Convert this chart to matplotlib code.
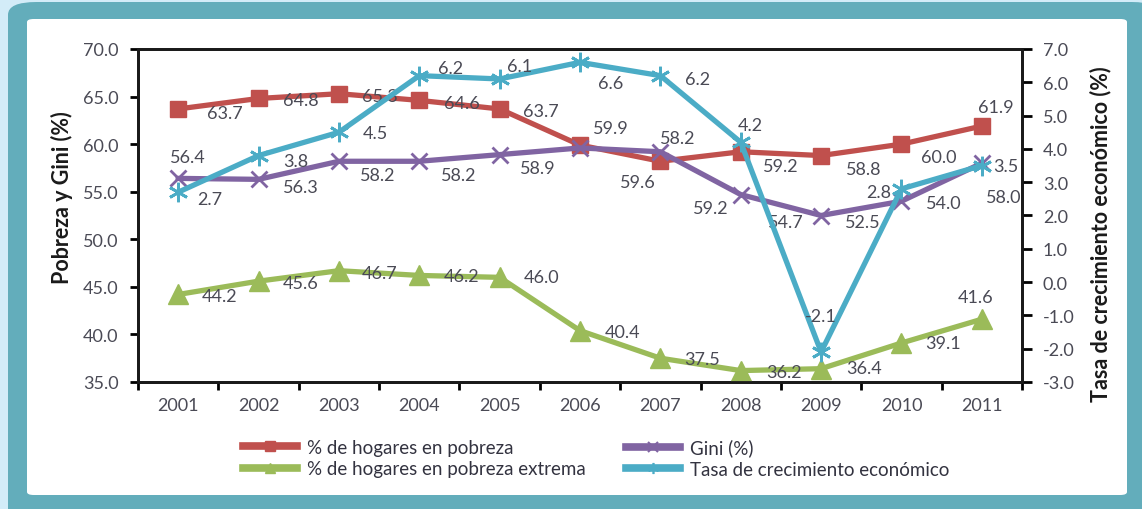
import matplotlib
matplotlib.use("Agg")
import matplotlib.pyplot as plt
import numpy as np
from matplotlib.patches import FancyBboxPatch
from matplotlib.lines import Line2D
from matplotlib.ticker import FuncFormatter, MultipleLocator

# Data
years = ["2001", "2002", "2003", "2004", "2005", "2006",
         "2007", "2008", "2009", "2010", "2011"]
pobreza = [63.7, 64.8, 65.3, 64.6, 63.7, 59.9, 58.2, 59.2, 58.8, 60.0, 61.9]
pobreza_extrema = [44.2, 45.6, 46.7, 46.2, 46.0, 40.4, 37.5, 36.2, 36.4, 39.1, 41.6]
gini = [56.4, 56.3, 58.2, 58.2, 58.9, 59.6, 59.2, 54.7, 52.5, 54.0, 58.0]
crecimiento = [2.7, 3.8, 4.5, 6.2, 6.1, 6.6, 6.2, 4.2, -2.1, 2.8, 3.5]

legend_labels = ["% de hogares en pobreza", "% de hogares en pobreza extrema",
                 "Gini (%)", "Tasa de crecimiento económico"]

# label offsets in pixels (dx, dy with dy positive = down)
off_pobreza = [(47, 4), (42, 2), (41, 2), (43, 3), (41, 2), (31, -17),
               (17, -23), (40, 14), (43, 13), (37, 13), (14, -19)]
off_extrema = [(41, 2), (42, 2), (41, 2), (42, 1), (42, 0), (43, 1),
               (42, 1), (43, 1), (43, -1), (42, 0), (-6, -22)]
off_gini = [(10, -21), (42, 8), (39, 14), (39, 14), (38, 13), (58, 34),
            (50, 56), (45, 27), (42, 7), (42, 2), (22, 34)]
off_crec = [(32, 7), (37, 5), (36, 1), (31, -8), (20, -13), (31, 21),
            (37, 3), (10, -17), (0, -36), (-23, 3), (24, 0)]

RED = "#c0504d"
GREEN = "#9bbb59"
PURPLE = "#8064a2"
CYAN = "#4bacc6"
TXT = "#4a4a55"

plt.rcParams["font.family"] = ["Lato", "DejaVu Sans"]
plt.rcParams["axes.unicode_minus"] = False

W, H = 1142, 510
fig = plt.figure(figsize=(W / 100, H / 100), dpi=100, facecolor="#d3ecf8")


def fx(px):
    return px / W


def fy(py):
    return 1 - py / H


# frame
fig.add_artist(FancyBboxPatch((fx(8), fy(530)), fx(1160) - fx(8), fy(3) - fy(530),
                              boxstyle="round,pad=0,rounding_size=0.025",
                              transform=fig.transFigure, facecolor="#63adbb",
                              edgecolor="none", zorder=0))
fig.add_artist(FancyBboxPatch((fx(27), fy(496)), fx(1127) - fx(27), fy(20) - fy(496),
                              boxstyle="round,pad=0,rounding_size=0.006",
                              transform=fig.transFigure, facecolor="white",
                              edgecolor="none", zorder=0))

ax = fig.add_axes([fx(138), fy(383), fx(1022) - fx(138), fy(50) - fy(383)])
ax.set_facecolor("none")
ax2 = ax.twinx()

x = np.arange(len(years))

ax.plot(x, pobreza, color=RED, lw=3.8, marker="s", ms=12, zorder=3)
ax.plot(x, pobreza_extrema, color=GREEN, lw=3.8, marker="^", ms=14, zorder=3)
ax.plot(x, gini, color=PURPLE, lw=3.8, marker="x", ms=12, mew=2, zorder=4)
ax2.plot(x, crecimiento, color=CYAN, lw=3.8, marker=(6, 2, 0), ms=14, mew=2, zorder=5)

for vals, offs, a in [(pobreza, off_pobreza, ax), (pobreza_extrema, off_extrema, ax),
                      (gini, off_gini, ax), (crecimiento, off_crec, ax2)]:
    for i, (v, (dx, dy)) in enumerate(zip(vals, offs)):
        a.annotate(f"{v:.1f}", (i, v), xytext=(dx, -dy), textcoords="offset pixels",
                   ha="center", va="center", fontsize=13, color=TXT, zorder=6)

ax.set_xlim(-0.5, 10.5)
ax.set_ylim(35, 70)
ax2.set_ylim(-3, 7)
ax.yaxis.set_major_locator(MultipleLocator(5))
ax2.yaxis.set_major_locator(MultipleLocator(1))
ax.yaxis.set_major_formatter(FuncFormatter(lambda v, p: f"{v:.1f}"))
ax2.yaxis.set_major_formatter(FuncFormatter(lambda v, p: f"{v:.1f}"))

ax.set_xticks(x)
ax.set_xticklabels(years)
ax.set_xticks(np.arange(-0.5, 11, 1), minor=True)
ax.tick_params(axis="x", which="major", length=0, pad=11, labelsize=13, labelcolor=TXT)
ax.tick_params(axis="x", which="minor", length=6, width=2, direction="out")
ax.tick_params(axis="y", length=6, width=2, pad=8, labelsize=13, labelcolor=TXT)
ax2.tick_params(axis="y", length=7, width=2, pad=8, labelsize=13, labelcolor=TXT)

for a in (ax, ax2):
    for s in a.spines.values():
        s.set_linewidth(2)
        s.set_color("#1a1a1a")

fig.text(fx(62), fy(198), "Pobreza y Gini (%)", rotation=90, ha="center", va="center",
         fontsize=15.5, fontweight="bold", color="#1a1a1a")
fig.text(fx(1101), fy(234), "Tasa de crecimiento económico (%)", rotation=90,
         ha="center", va="center", fontsize=15.5, fontweight="bold", color="#1a1a1a")

handles = [Line2D([], [], color=RED, lw=5.5, marker="s", ms=7),
           Line2D([], [], color=GREEN, lw=5.5, marker="^", ms=7),
           Line2D([], [], color=PURPLE, lw=5.5, marker="x", ms=7, mew=1.5),
           Line2D([], [], color=CYAN, lw=5.5, marker=(6, 2, 0), ms=8, mew=1.2)]
leg_kw = dict(loc="center left", frameon=False, fontsize=13.5,
              handlelength=2.9, handletextpad=0.5, labelspacing=0.25,
              borderpad=0, borderaxespad=0, labelcolor="#333340")
fig.legend(handles[:2], legend_labels[:2], bbox_to_anchor=(fx(243), fy(459)), **leg_kw)
fig.legend(handles[2:], legend_labels[2:], bbox_to_anchor=(fx(626), fy(459)), **leg_kw)

fig.savefig("out.png", dpi=100, facecolor=fig.get_facecolor())
